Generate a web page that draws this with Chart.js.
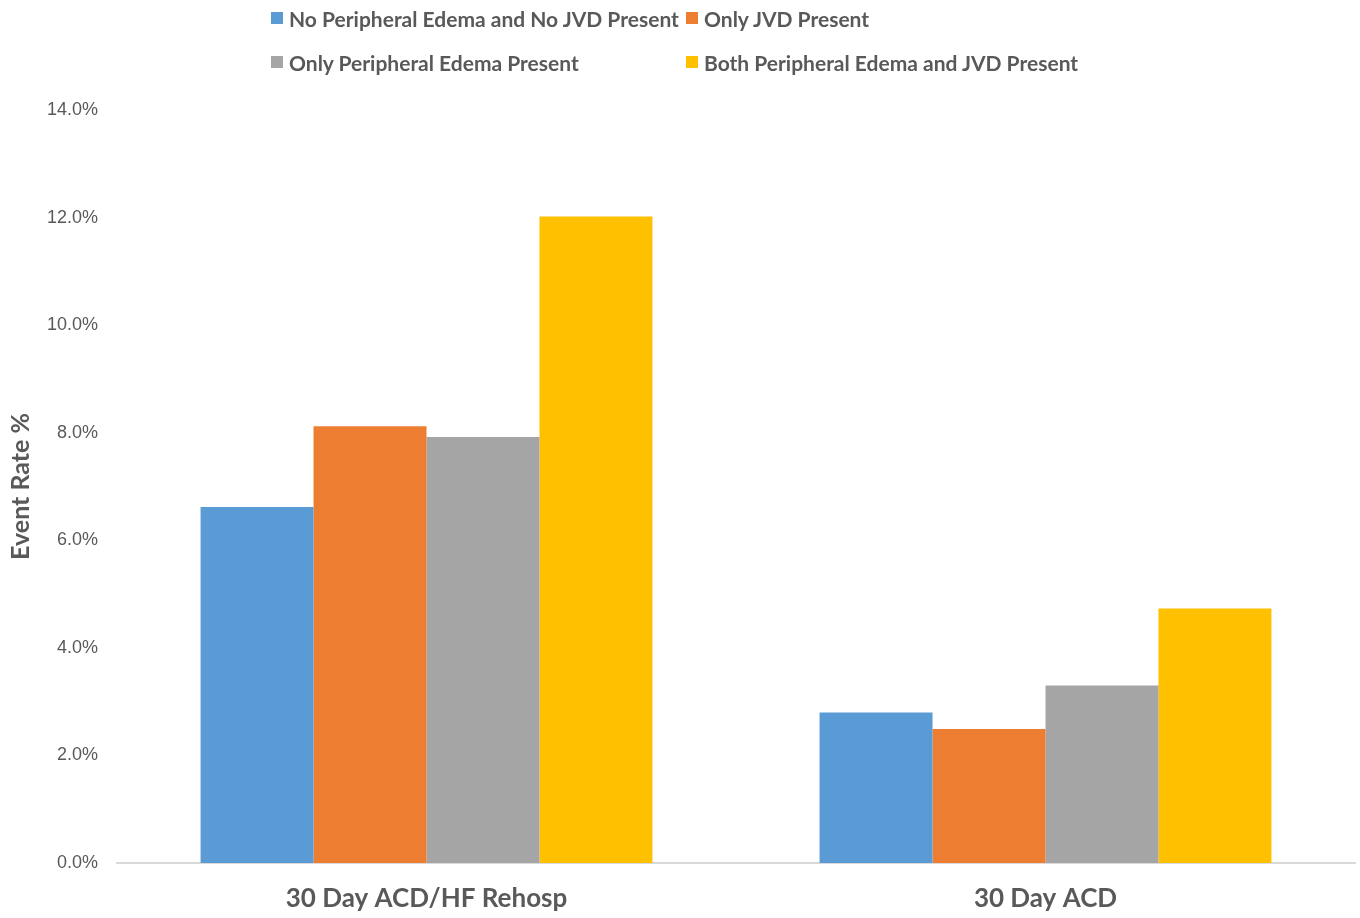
<!DOCTYPE html>
<html>
<head>
<meta charset="utf-8">
<script src="https://cdn.jsdelivr.net/npm/chart.js@4/dist/chart.umd.min.js"></script>
<style>
  html, body { margin: 0; padding: 0; background: #fff; }
  #wrap { position: relative; width: 1360px; height: 918px; }
  #legend { position: absolute; left: 271px; top: 0; display: grid;
    grid-template-columns: 415px 415px; grid-auto-rows: 44px; }
  .item { display: flex; align-items: center; height: 36px;
    font-family: Lato, "Open Sans", sans-serif; font-weight: 700; font-size: 21px; color: #595959; white-space: nowrap; }
  .sw { width: 12px; height: 12px; margin-right: 6px; flex: none; }
</style>
</head>
<body>
<div id="wrap">
  <canvas id="c" width="1360" height="918"></canvas>
  <div id="legend"></div>
</div>
<script>
const categories = ["30 Day ACD/HF Rehosp", "30 Day ACD"];
const seriesNames = [
  "No Peripheral Edema and No JVD Present",
  "Only JVD Present",
  "Only Peripheral Edema Present",
  "Both Peripheral Edema and JVD Present"
];
const noEdemaNoJvd = [6.62, 2.80];
const onlyJvd = [8.12, 2.49];
const onlyEdema = [7.92, 3.30];
const bothEdemaJvd = [12.02, 4.73];
const yTicks = [0, 2, 4, 6, 8, 10, 12, 14];
const colors = ["#5B9BD5", "#ED7D31", "#A5A5A5", "#FFC000"];

const seriesValues = [noEdemaNoJvd, onlyJvd, onlyEdema, bothEdemaJvd];

const chart = new Chart(document.getElementById('c'), {
  type: 'bar',
  data: {
    labels: categories,
    datasets: seriesNames.map((n, i) => ({
      label: n,
      data: seriesValues[i],
      backgroundColor: colors[i],
      borderWidth: 0,
      categoryPercentage: 0.73,
      barPercentage: 1.0
    }))
  },
  options: {
    responsive: false,
    animation: false,
    layout: { padding: { top: 110, right: 5, bottom: 0, left: 0 } },
    plugins: { legend: { display: false }, tooltip: { enabled: false } },
    scales: {
      x: {
        afterFit: (s) => { s.height = 55; },
        grid: { display: false, drawTicks: false },
        border: { display: true, color: '#D9D9D9', width: 2 },
        ticks: { padding: 20, color: '#595959',
          font: { family: 'Lato, "Open Sans", sans-serif', weight: 'bold', size: 26 } }
      },
      y: {
        min: 0, max: 14,
        afterFit: (s) => { s.width = 117; },
        afterBuildTicks: (s) => { s.ticks = yTicks.map(v => ({ value: v })); },
        grid: { display: false, drawTicks: false },
        border: { display: false },
        ticks: { padding: 19, color: '#595959',
          font: { family: '"Liberation Sans", Arial, sans-serif', size: 18 },
          callback: (v) => v.toFixed(1) + '%' },
        title: { display: true, text: 'Event Rate %', color: '#595959', padding: { top: 6, bottom: 0 },
          font: { family: 'Lato, "Open Sans", sans-serif', weight: 'bold', size: 25 } }
      }
    }
  }
});

const leg = document.getElementById('legend');
chart.data.datasets.forEach(ds => {
  const d = document.createElement('div');
  d.className = 'item';
  const sw = document.createElement('span');
  sw.className = 'sw';
  sw.style.background = ds.backgroundColor;
  d.appendChild(sw);
  d.appendChild(document.createTextNode(ds.label));
  leg.appendChild(d);
});
</script>
</body>
</html>
